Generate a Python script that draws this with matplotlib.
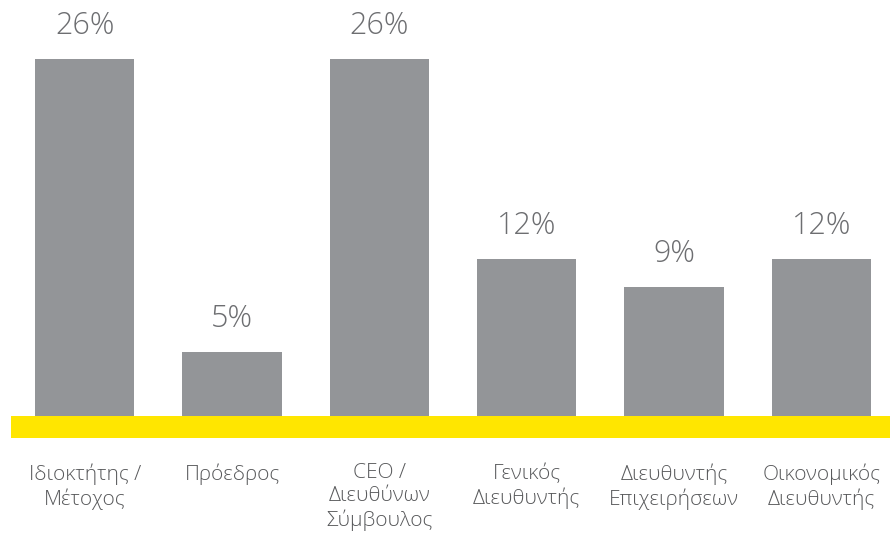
import matplotlib
matplotlib.use("Agg")
import matplotlib.pyplot as plt

# data
categories = [
    "Ιδιοκτήτης /\nΜέτοχος",
    "Πρόεδρος",
    "CEO /\nΔιευθύνων\nΣύμβουλος",
    "Γενικός\nΔιευθυντής",
    "Διευθυντής\nΕπιχειρήσεων",
    "Οικονομικός\nΔιευθυντής",
]
values = [26.0, 4.66, 26.0, 11.43, 9.4, 11.43]
value_labels = ["26%", "5%", "26%", "12%", "9%", "12%"]

BAR_COLOR = "#939598"
YELLOW = "#FFE600"
VALUE_COLOR = "#6d6e71"
LABEL_COLOR = "#58595b"

plt.rcParams['font.family'] = ['Open Sans', 'DejaVu Sans']

fig = plt.figure(figsize=(8.9, 5.38), dpi=100)
ax = fig.add_axes([11 / 890, 100 / 538, 879 / 890, 438 / 538])

x = list(range(len(categories)))
bars = ax.bar(x, values, width=0.675, color=BAR_COLOR, zorder=2)

# yellow base band
ax.axhspan(-1.6, 0, color=YELLOW, zorder=3, lw=0)

for b, lab in zip(bars, value_labels):
    ax.annotate(lab, (b.get_x() + b.get_width() / 2, b.get_height()),
                xytext=(0, 12), textcoords="offset points",
                ha="center", va="bottom", fontsize=22, color=VALUE_COLOR,
                fontweight="light")

for xi, cat in zip(x, categories):
    ax.text(xi, -3.45, cat, ha="center", va="top", fontsize=15,
            color=LABEL_COLOR, linespacing=1.2, clip_on=False,
            fontweight="light")

ax.set_xlim(-0.5, 5.465)
ax.set_ylim(-1.6, 30.3)
ax.axis("off")

fig.savefig("out.png", dpi=100)
